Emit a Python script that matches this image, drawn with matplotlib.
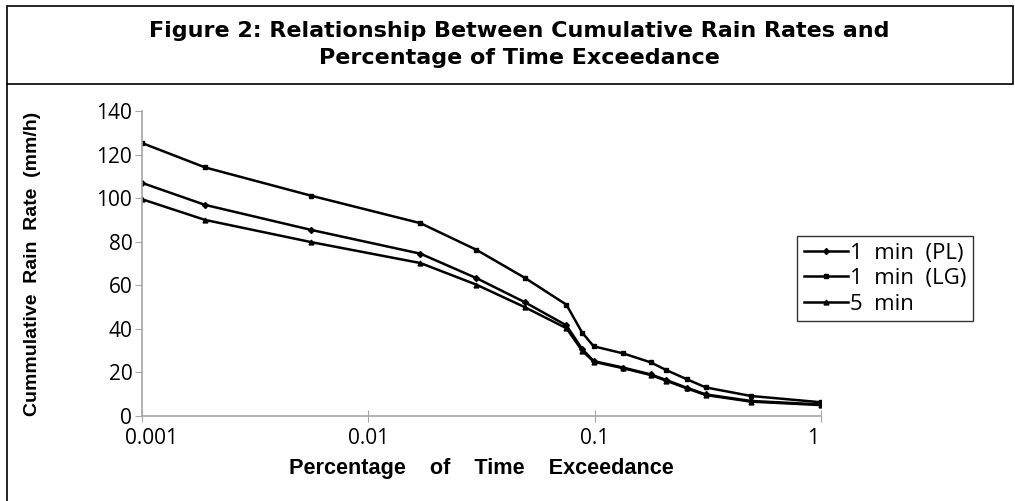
import matplotlib
matplotlib.use("Agg")
import matplotlib.pyplot as plt
from matplotlib.lines import Line2D
from matplotlib.patches import Rectangle
from matplotlib.transforms import ScaledTranslation

plt.rcParams['font.family'] = ['Open Sans', 'DejaVu Sans']

# percentage of time exceedance (shared by all series)
exceedance = [0.001, 0.0019, 0.0056, 0.017, 0.030, 0.049, 0.075, 0.088, 0.099,
              0.134, 0.177, 0.207, 0.255, 0.31, 0.49, 1.0]

rate_pl = [107.0, 96.9, 85.4, 74.5, 63.3, 52.3, 41.6, 30.8, 25.2,
           22.2, 19.1, 16.5, 13.0, 9.9, 6.9, 5.3]
rate_lg = [125.3, 114.1, 101.1, 88.5, 76.3, 63.5, 51.1, 38.3, 32.0,
           28.7, 24.6, 21.1, 16.9, 13.1, 9.2, 6.3]
rate_5min = [99.5, 90.0, 79.8, 70.2, 60.3, 50.0, 40.3, 30.0, 24.9,
             21.9, 18.8, 16.2, 12.7, 9.6, 6.6, 5.0]

series_labels = ['1  min  (PL)', '1  min  (LG)', '5  min']
x_tick_labels = ['0.001', '0.01', '0.1', '1']

fig = plt.figure(figsize=(10.15, 5.01), dpi=100)

# frame around the whole figure and the title box
fig.add_artist(Rectangle((7 / 1015, 1 - 84 / 501), (1013 - 7) / 1015, 78 / 501,
                         transform=fig.transFigure, fill=False, edgecolor='black', lw=1.2))
fig.add_artist(Line2D([7 / 1015, 7 / 1015], [0, 1 - 84 / 501],
                      transform=fig.transFigure, color='black', lw=1.2))

title_font = dict(family='DejaVu Sans', fontsize=16, fontweight='bold')
fig.text(0.512, 1 - 31 / 501, 'Figure 2: Relationship Between Cumulative Rain Rates and',
         ha='center', va='center', **title_font)
fig.text(0.512, 1 - 58 / 501, 'Percentage of Time Exceedance',
         ha='center', va='center', **title_font)

ax = fig.add_axes([142 / 1015, 85 / 501, (821 - 142) / 1015, (416 - 111) / 501])

ax.plot(exceedance, rate_pl, color='black', lw=1.8, marker='D', ms=3, label=series_labels[0])
ax.plot(exceedance, rate_lg, color='black', lw=1.8, marker='s', ms=3.5, label=series_labels[1])
ax.plot(exceedance, rate_5min, color='black', lw=1.8, marker='^', ms=3.5, label=series_labels[2])

ax.set_xscale('log')
ax.set_xlim(0.001, 1)
ax.set_ylim(0, 140)
ax.set_xticks([0.001, 0.01, 0.1, 1])
ax.set_xticklabels(x_tick_labels)
ax.minorticks_off()
ax.set_yticks(range(0, 141, 20))

for side in ['top', 'right']:
    ax.spines[side].set_visible(False)
for side in ['left', 'bottom']:
    ax.spines[side].set_color('#a6a6a6')
    ax.spines[side].set_linewidth(1.2)
ax.tick_params(axis='y', direction='out', length=5, color='#a6a6a6', labelsize=15, pad=2)
ax.tick_params(axis='x', direction='inout', length=8, color='#a6a6a6', labelsize=15, pad=5)

# end labels are nudged inward like in the original
xlabels = ax.get_xticklabels()
xlabels[0].set_transform(xlabels[0].get_transform() + ScaledTranslation(0.09, 0, fig.dpi_scale_trans))
xlabels[-1].set_transform(xlabels[-1].get_transform() + ScaledTranslation(-0.08, 0, fig.dpi_scale_trans))

ax.set_xlabel('Percentage    of    Time    Exceedance', family='Liberation Sans',
              fontsize=15.6, fontweight='bold', labelpad=6)
ax.set_ylabel('Cummulative  Rain  Rate  (mm/h)', family='Liberation Sans',
              fontsize=14, fontweight='bold', labelpad=40)

leg = ax.legend(loc='upper left', bbox_to_anchor=(797 / 1015, 1 - 236 / 501),
                bbox_transform=fig.transFigure, fontsize=16, frameon=True, fancybox=False,
                handlelength=2.0, handletextpad=0.1, borderpad=0.3, labelspacing=0.2,
                borderaxespad=0)
leg.get_frame().set_edgecolor('black')
leg.get_frame().set_linewidth(1.0)

fig.savefig('out.png', dpi=100)
